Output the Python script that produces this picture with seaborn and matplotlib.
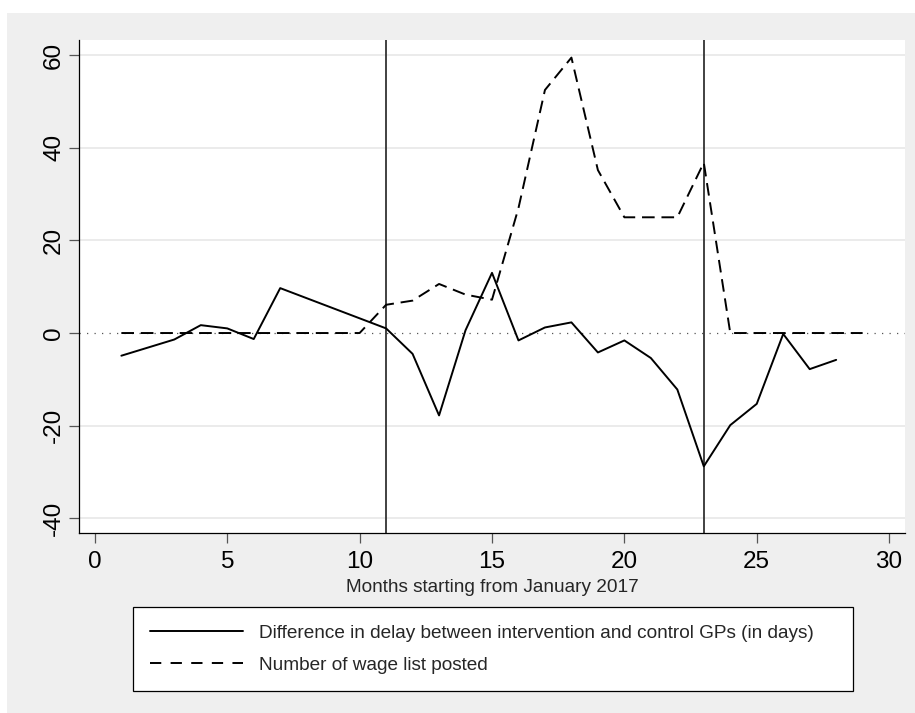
import numpy as np
import pandas as pd
import matplotlib
matplotlib.use('Agg')
import matplotlib.pyplot as plt
import seaborn as sns
from matplotlib.patches import Rectangle
from matplotlib.lines import Line2D

# ── data ─────────────────────────────────────────────────────────
delay_months = [1, 3, 4, 5, 6, 7, 11, 12, 13, 14, 15, 16, 17, 18, 19, 20,
                21, 22, 23, 24, 25, 26, 27, 28]
delay_diff = [-4.9, -1.4, 1.7, 1.0, -1.3, 9.7, 1.0, -4.5, -17.8, 0.6, 13.0,
              -1.6, 1.2, 2.3, -4.2, -1.6, -5.4, -12.2, -28.8, -19.9, -15.3,
              -0.2, -7.8, -5.8]

wage_months = list(range(1, 30))
wage_lists = [0, 0, 0, 0, 0, 0, 0, 0, 0, 0, 6.1, 7.0, 10.6, 8.3, 7.2, 27.0,
              52.5, 59.5, 35.2, 25.0, 25.0, 25.0, 36.8, 0, 0, 0, 0, 0, 0]

event_months = [11, 23]
x_ticks = [0, 5, 10, 15, 20, 25, 30]
y_ticks = [-40, -20, 0, 20, 40, 60]

label_delay = 'Difference in delay between intervention and control GPs (in days)'
label_wage = 'Number of wage list posted'

delay_df = pd.DataFrame({'month': delay_months, 'value': delay_diff})
wage_df = pd.DataFrame({'month': wage_months, 'value': wage_lists})

# ── style ─────────────────────────────────────────────────────────
sns.set_style('white')
plt.rcParams['font.family'] = ['Liberation Sans', 'DejaVu Sans']

BG = '#efefef'
fig = plt.figure(figsize=(9.15, 7.13), dpi=100, facecolor='white')
fig.patches.append(Rectangle((7 / 915, 0), 1, 1 - 13 / 713, transform=fig.transFigure,
                             facecolor=BG, edgecolor='none', zorder=-10))

ax = fig.add_axes([79 / 915, 1 - 533 / 713, (905 - 79) / 915, (533 - 40) / 713])
ax.set_facecolor('white')

# grid + reference lines
for yv in y_ticks:
    if yv != 0:
        ax.axhline(yv, color='#e6e6e6', lw=1.1, zorder=0)
ax.axhline(0, color='#555555', lw=0.9, linestyle=(0, (1, 5)), zorder=1)
for xv in event_months:
    ax.axvline(xv, color='#333333', lw=1.3, zorder=2)

sns.lineplot(data=delay_df, x='month', y='value', ax=ax, color='black',
             linewidth=1.4, zorder=3)
sns.lineplot(data=wage_df, x='month', y='value', ax=ax, color='black',
             linewidth=1.4, zorder=3)
ax.lines[-1].set_dashes((6.5, 3.5))

ax.set_xlim(-0.6, 30.6)
ax.set_ylim(-43.2, 63.3)
ax.set_xticks(x_ticks)
ax.set_yticks(y_ticks)
ax.set_yticklabels([str(v) for v in y_ticks], rotation=90, va='center')
ax.tick_params(axis='both', which='major', labelsize=17.5, direction='out',
               length=7, width=0.9, color='#555555', labelcolor='black',
               left=True, bottom=True)
ax.tick_params(axis='y', pad=3)
ax.tick_params(axis='x', pad=6)

for side in ['top', 'right']:
    ax.spines[side].set_visible(False)
for side in ['left', 'bottom']:
    ax.spines[side].set_color('black')
    ax.spines[side].set_linewidth(0.9)

ax.set_xlabel('Months starting from January 2017', fontsize=13.7, labelpad=4)
ax.set_ylabel('')

# legend box below the plot
handles = [Line2D([], [], color='black', lw=1.4),
           Line2D([], [], color='black', lw=1.4, dashes=(5.8, 4.8))]
leg = fig.legend(handles, [label_delay, label_wage], loc='upper left',
                 bbox_to_anchor=(133 / 915, 1 - 608 / 713, 720 / 915, 0.001),
                 mode='expand', fontsize=13.7, frameon=True, fancybox=False,
                 edgecolor='black', facecolor='white', framealpha=1,
                 handlelength=4.9, handletextpad=0.8, labelspacing=0.79,
                 borderpad=0.9, borderaxespad=0)
leg.get_frame().set_linewidth(0.9)

fig.savefig('out.png', dpi=100, facecolor=fig.get_facecolor())
